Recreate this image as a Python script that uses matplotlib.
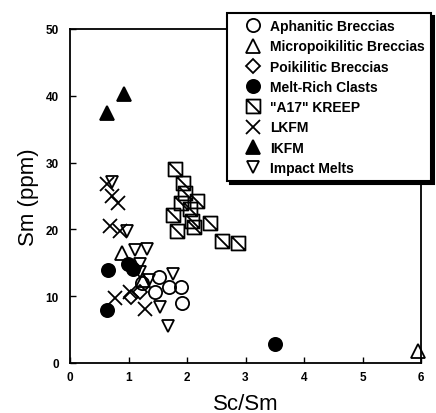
import matplotlib
matplotlib.use("Agg")
import matplotlib.pyplot as plt
from matplotlib.path import Path

plt.rcParams['font.family'] = ['Liberation Sans', 'DejaVu Sans']

# ---- data (Sc/Sm, Sm ppm) ----
aph_x = [1.23, 1.45, 1.52, 1.70, 1.90, 1.92]
aph_y = [12.0, 10.6, 12.8, 11.4, 11.4, 9.0]

micro_x = [0.89, 1.25, 5.95]
micro_y = [16.4, 12.4, 1.8]

poik_x = [1.05, 1.20]
poik_y = [9.9, 10.6]

melt_x = [0.65, 0.63, 0.99, 1.08, 3.50]
melt_y = [13.9, 7.9, 14.8, 14.0, 2.8]

kreep_x = [1.79, 1.93, 1.96, 1.90, 2.17, 1.76, 2.05, 1.83, 2.08, 2.39, 2.60, 2.87, 2.12]
kreep_y = [29.0, 27.0, 25.5, 24.0, 24.3, 22.2, 23.0, 19.8, 21.3, 21.0, 18.3, 18.0, 20.3]

lkfm_x = [0.63, 0.72, 0.82, 0.68, 0.85, 0.77, 1.03, 1.28]
lkfm_y = [26.8, 25.0, 24.0, 20.5, 19.8, 9.8, 10.6, 8.1]

ikfm_x = [0.63, 0.93]
ikfm_y = [37.5, 40.3]

imp_x = [0.72, 0.97, 1.11, 1.31, 1.20, 1.20, 1.35, 1.76, 1.54, 1.68]
imp_y = [27.1, 19.8, 16.9, 17.1, 14.8, 13.6, 12.5, 13.3, 8.4, 5.5]

x_ticks = [0, 1, 2, 3, 4, 5, 6]
y_ticks = [0, 10, 20, 30, 40, 50]

# custom square-with-diagonal marker
sq_marker = Path([(-1, -1), (1, -1), (1, 1), (-1, 1), (-1, -1), (-1, 1), (1, -1)],
                 [Path.MOVETO, Path.LINETO, Path.LINETO, Path.LINETO, Path.CLOSEPOLY,
                  Path.MOVETO, Path.LINETO])

fig = plt.figure(figsize=(4.36, 4.14), dpi=100)
ax = fig.add_axes([70/436, 1-364/414, (421-70)/436, (364-30)/414])

lw = 1.3
ms = 9.5
series = [
    (aph_x, aph_y, 'o', 'none', 'Aphanitic Breccias', ms),
    (micro_x, micro_y, '^', 'none', 'Micropoikilitic Breccias', ms),
    (poik_x, poik_y, 'D', 'none', 'Poikilitic Breccias', ms*0.75),
    (melt_x, melt_y, 'o', 'black', 'Melt-Rich Clasts', ms),
    (kreep_x, kreep_y, sq_marker, 'none', '"A17" KREEP', ms*1.05),
    (lkfm_x, lkfm_y, 'x', 'black', 'LKFM', ms),
    (ikfm_x, ikfm_y, '^', 'black', 'IKFM', ms),
    (imp_x, imp_y, 'v', 'none', 'Impact Melts', ms*0.95),
]
handles = []
for xs, ys, m, fc, lab, s in series:
    h, = ax.plot(xs, ys, marker=m, markerfacecolor=fc, linestyle='none',
                 markeredgecolor='black', markeredgewidth=lw, markersize=s,
                 label=lab, clip_on=False)
    handles.append(h)

ax.set_xlim(0, 6)
ax.set_ylim(0, 50)
ax.set_xticks(x_ticks)
ax.set_yticks(y_ticks)
ax.set_xticklabels([str(v) for v in x_ticks], fontweight='bold', fontsize=8.5)
ax.set_yticklabels([str(v) for v in y_ticks], fontweight='bold', fontsize=8.5)
ax.tick_params(axis='x', direction='in', length=4, width=1, pad=6)
ax.tick_params(axis='y', direction='in', length=4, width=1, pad=8)
for sp in ax.spines.values():
    sp.set_linewidth(1.3)

ax.set_xlabel('Sc/Sm', fontsize=16, labelpad=7)
ax.set_ylabel('Sm (ppm)', fontsize=16, labelpad=5)

leg = fig.legend(handles=handles, loc='upper right',
                 bbox_to_anchor=(431/436, 1-14/414), frameon=True, fancybox=False,
                 prop={'weight': 'bold', 'size': 10}, labelspacing=0.45,
                 handlelength=2.8, handletextpad=-0.15, borderpad=0.45,
                 borderaxespad=0,
                 shadow={'color': 'black', 'alpha': 1.0})
leg.get_frame().set_edgecolor('black')
leg.get_frame().set_linewidth(1.5)

fig.savefig('out.png', dpi=100)
